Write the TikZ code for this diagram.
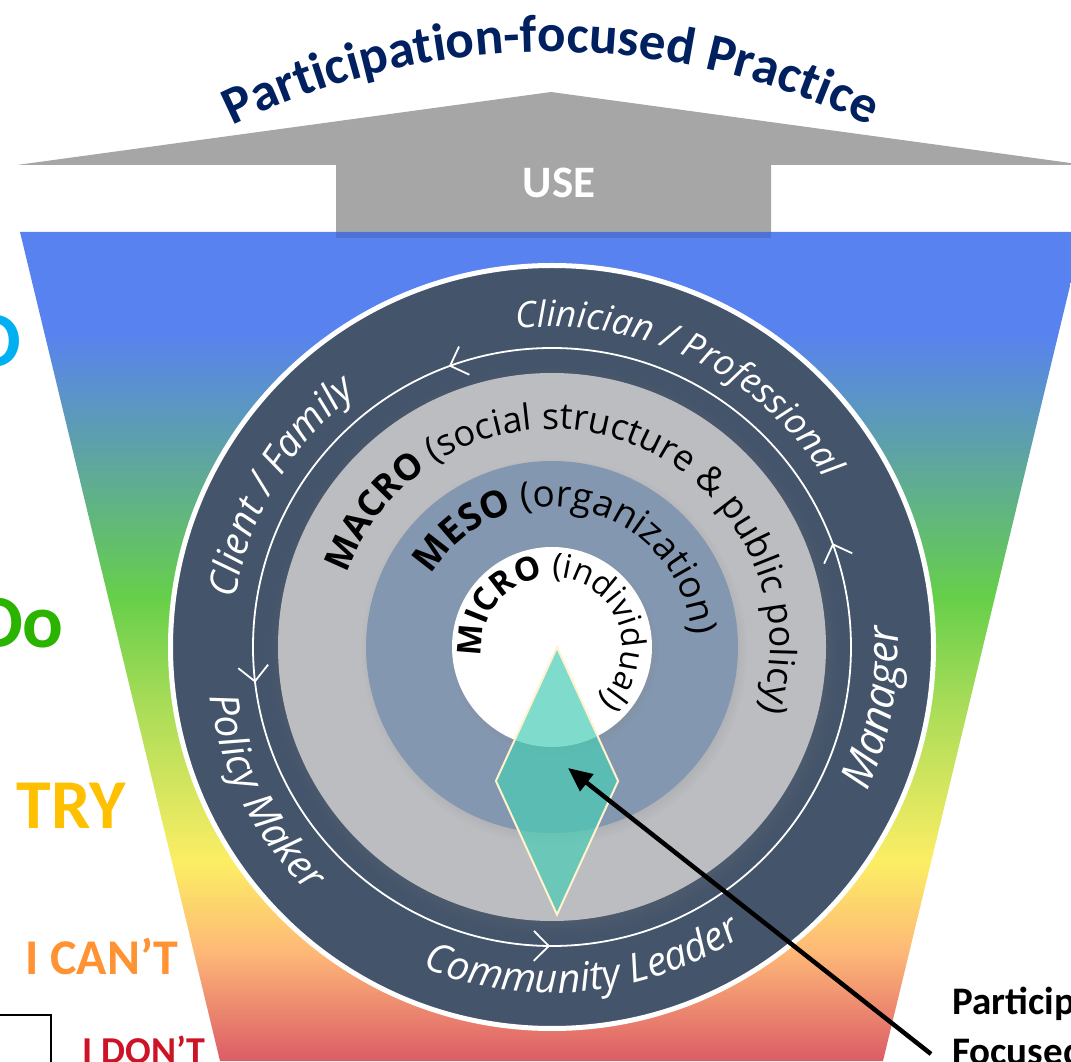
\documentclass[tikz,border=0pt]{standalone}
\usepackage{fontspec}
\usetikzlibrary{decorations.text,decorations.markings,shapes.geometric,shadows,arrows.meta}
\newfontfamily\ringfont{Open Sans}
\newfontfamily\calfont{Carlito}
\definecolor{ringdark}{HTML}{44546A}
\definecolor{macrogray}{HTML}{BCBDC1}
\definecolor{mesoblue}{HTML}{8497B0}
\definecolor{coreteal}{HTML}{4ACCB5}
\definecolor{corerim}{HTML}{FFF2CC}
\definecolor{arrowgray}{HTML}{A6A6A6}
\definecolor{titleblue}{HTML}{002060}
\definecolor{fblue}{HTML}{5882F0}
\definecolor{fteal}{HTML}{5DA2A8}
\definecolor{fgreen}{HTML}{66CF4A}
\definecolor{flime}{HTML}{A8DC58}
\definecolor{fyellow}{HTML}{FCEE64}
\definecolor{forange}{HTML}{FDB777}
\definecolor{fred}{HTML}{DC5C67}
\definecolor{lvlcyan}{HTML}{00B0F0}
\definecolor{lvlgreen}{HTML}{2AB400}
\definecolor{lvlgold}{HTML}{FFC000}
\definecolor{lvlorange}{HTML}{FF9233}
\definecolor{lvlred}{HTML}{CC1426}
\pgfdeclareverticalshading{funnelgrad}{100bp}{color(0bp)=(fred); color(25bp)=(fred);
  color(31.5bp)=(forange); color(37bp)=(fyellow); color(46.5bp)=(flime);
  color(53bp)=(fgreen); color(62bp)=(fteal); color(69bp)=(fblue); color(100bp)=(fblue)}
\newcommand{\sizedcal}[1]{\calfont\bfseries\fontsize{#1}{#1}\selectfont}
\newcommand{\outerfont}[1]{\ringfont\itshape\fontsize{#1}{#1}\selectfont}
\newcommand{\levelfont}[1]{\ringfont\fontsize{#1}{#1}\selectfont}

\begin{document}
\begin{tikzpicture}[x=1pt,y=1pt,
  ringlabel/.style={decorate,decoration={text along path,text align=center,text color=white,text={#1}}},
  levellabel/.style={decorate,decoration={text along path,text align=center,text color=black,text={#1}}},
  disc/.style={circle,inner sep=0pt,minimum size=#1},
  softshadow/.style={circular drop shadow={shadow scale=1.04,shadow xshift=2pt,shadow yshift=-4pt,opacity=0.4}},
  sidelabel/.style={inner sep=0pt},
  pointer/.style={line width=4.5pt,-{Triangle[length=24pt,width=21pt]}}]
\useasboundingbox (0,0) rectangle (1071,1061);
\clip (0,0) rectangle (1071,1061);

% title and USE arrow
\coordinate (titleC) at (551,289);
\path[decorate,decoration={text along path,text align=center,text color=titleblue,
  text={|\sizedcal{53}|Participation-focused Practice}}]
  ([shift={(135:720)}]titleC) arc[start angle=135,end angle=45,radius=720];
\fill[arrowgray] (17,896) -- (551,969) -- (1085,896) -- (771,896) -- (771,823)
  -- (336,823) -- (336,896) -- cycle;
\node[sidelabel,text=white,font=\sizedcal{45}] (useLbl) at (559,878) {USE};

% funnel
\shade[shading=funnelgrad] (20,829) -- (1083,829) -- (883,0) -- (220,0) -- cycle;
\fill[black,opacity=0.12] (336,823) rectangle (771,829);

% levels on the left
\node[sidelabel,text=lvlcyan,font=\sizedcal{78},anchor=east] (topLbl) at (21,720) {O};
\node[sidelabel,text=lvlgreen,font=\sizedcal{76},anchor=east] (doLbl) at (64,438) {Do};
\node[sidelabel,text=lvlgold,font=\sizedcal{70}] (tryLbl) at (71,255) {TRY};
\node[sidelabel,text=lvlorange,font=\sizedcal{50}] (cantLbl) at (102,105) {I CAN’T};
\node[sidelabel,text=lvlred,font=\sizedcal{38}] (dontLbl) at (144,11) {I DON’T};
\draw[line width=1.2pt] (-10,46) rectangle (51,-10);

% circles
\coordinate (C) at (552,414);
\node[disc=763pt,fill=ringdark,draw=white,line width=5pt] (outerRing) at (C) {};
\draw[white,line width=1.8pt,postaction={decorate},decoration={markings,
  mark=at position 0.0564 with {\arrow[white,line width=1.8pt]{Straight Barb[length=15pt,width=30pt]}},
  mark=at position 0.306 with {\arrow[white,line width=1.8pt]{Straight Barb[length=15pt,width=30pt]}},
  mark=at position 0.519 with {\arrow[white,line width=1.8pt]{Straight Barb[length=15pt,width=30pt]}},
  mark=at position 0.749 with {\arrow[white,line width=1.8pt]{Straight Barb[length=15pt,width=30pt]}}}]
  ([shift={(0:299)}]C) arc[start angle=0,end angle=360,radius=299];
\node[disc=548pt,fill=macrogray,softshadow] (macroDisc) at (C) {};
\node[disc=372pt,fill=mesoblue,softshadow] (mesoDisc) at (C) {};
\node[disc=200pt,fill=white,softshadow] (microDisc) at (C) {};

% roles
\path[ringlabel={|\outerfont{36}|Clinician / Professional}]
  ([shift={(184:320)}]C) arc[start angle=184,end angle=-56,radius=320];
\path[ringlabel={|\outerfont{39}|Client / Family}]
  ([shift={(269.5:320)}]C) arc[start angle=269.5,end angle=29.5,radius=320];
\path[ringlabel={|\outerfont{43}|Manager}]
  ([shift={(-130.5:346)}]C) arc[start angle=-130.5,end angle=109.5,radius=346];
\path[ringlabel={|\outerfont{40}|Policy Maker}]
  ([shift={(86.7:346)}]C) arc[start angle=86.7,end angle=326.7,radius=346];
\path[ringlabel={|\outerfont{40}|Community Leader}]
  ([shift={(155.7:346)}]C) arc[start angle=155.7,end angle=395.7,radius=346];

% levels
\path[levellabel={|\levelfont{36}\bfseries|MACRO|\levelfont{36}| (social structure {\&} public policy)}]
  ([shift={(191.6:218)}]C) arc[start angle=191.6,end angle=-48.4,radius=218];
\path[levellabel={|\levelfont{37}\bfseries|MESO|\levelfont{37}| (organization)}]
  ([shift={(197:140)}]C) arc[start angle=197,end angle=-43,radius=140];
\path[levellabel={|\levelfont{33}\bfseries|MICRO|\levelfont{33}| (individual)}]
  ([shift={(220:70)}]C) arc[start angle=220,end angle=-80,radius=70];

% core and pointer
\node[diamond,draw=corerim,line width=2pt,fill=coreteal,fill opacity=0.7,
  minimum width=123pt,minimum height=268pt,inner sep=0pt] (core) at (557,280) {};
\node[sidelabel,anchor=north west,align=left,font=\sizedcal{39},
  execute at begin node=\setlength{\baselineskip}{50pt}] (pfLabel) at (952,74) {Participation-\\Focused};
\coordinate (aim) at (568,293);
\coordinate (tail) at (931,7);
\draw[pointer] (tail) -- (aim);
\end{tikzpicture}
\end{document}
